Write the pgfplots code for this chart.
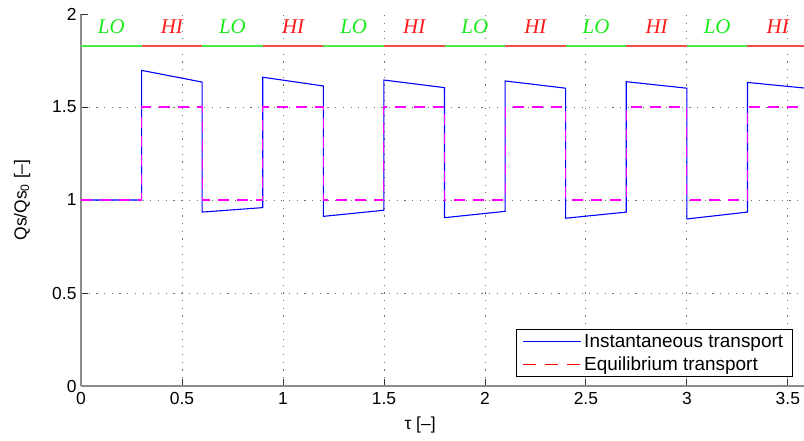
\documentclass[border=0pt]{standalone}
\usepackage{fontspec}
\setmainfont{Liberation Sans}
\newfontfamily\timesfont{Liberation Serif}
\usepackage{pgfplots}
\pgfplotsset{compat=1.18}
\usepackage{pgfplotstable}
\definecolor{bandgreen}{rgb}{0.30,0.92,0.30}
\definecolor{bandred}{rgb}{0.95,0.30,0.30}
\definecolor{txtgreen}{rgb}{0.10,0.92,0.10}
\definecolor{txtred}{rgb}{1.0,0.10,0.10}
\definecolor{eqmag}{rgb}{1.0,0.0,1.0}

\pgfplotstableread{
x y
0 1
0.3 1
0.3 1.697
0.6 1.634
0.6 0.935
0.9 0.959
0.9 1.660
1.2 1.613
1.2 0.912
1.5 0.945
1.5 1.645
1.8 1.604
1.8 0.905
2.1 0.939
2.1 1.640
2.4 1.601
2.4 0.902
2.7 0.935
2.7 1.636
3.0 1.601
3.0 0.898
3.3 0.935
3.3 1.632
3.6 1.600
}\inst

\pgfplotstableread{
x y
0 1
0.3 1
0.3 1.5
0.6 1.5
0.6 1
0.9 1
0.9 1.5
1.2 1.5
1.2 1
1.5 1
1.5 1.5
1.8 1.5
1.8 1
2.1 1
2.1 1.5
2.4 1.5
2.4 1
2.7 1
2.7 1.5
3.0 1.5
3.0 1
3.3 1
3.3 1.5
3.6 1.5
}\equil

\pgfplotstableread{
x y
0 1.828
0.3 1.828
nan nan
0.6 1.828
0.9 1.828
nan nan
1.2 1.828
1.5 1.828
nan nan
1.8 1.828
2.1 1.828
nan nan
2.4 1.828
2.7 1.828
nan nan
3.0 1.828
3.3 1.828
}\bandlo

\pgfplotstableread{
x y
0.3 1.828
0.6 1.828
nan nan
0.9 1.828
1.2 1.828
nan nan
1.5 1.828
1.8 1.828
nan nan
2.1 1.828
2.4 1.828
nan nan
2.7 1.828
3.0 1.828
nan nan
3.3 1.828
3.6 1.828
}\bandhi

\pgfplotstableread{
x y label
0.15 1.930 LO
0.75 1.930 LO
1.35 1.930 LO
1.95 1.930 LO
2.55 1.930 LO
3.15 1.930 LO
}\lolabels

\pgfplotstableread{
x y label
0.45 1.930 HI
1.05 1.930 HI
1.65 1.930 HI
2.25 1.930 HI
2.85 1.930 HI
3.45 1.930 HI
}\hilabels

\begin{document}
\begin{tikzpicture}
\begin{axis}[
  name=ax,
  scale only axis,
  width=723bp, height=372bp,
  xmin=0, xmax=3.58, ymin=0, ymax=2,
  axis x line*=bottom, axis y line*=left,
  axis line style={black!45, line width=1.2bp},
  tick align=inside,
  major tick length=7bp,
  tick style={black!80, line width=0.8bp},
  xtick={0,0.5,1,1.5,2,2.5,3,3.5},
  ytick={0,0.5,1,1.5},
  extra y ticks={2},
  extra y tick style={grid=none},
  /pgf/number format/assume math mode=true,
  ticklabel style={font=\fontsize{17.5}{20}\selectfont, text=black},
  xticklabel style={yshift=-3bp},
  yticklabel style={xshift=-1bp},
  grid=major,
  grid style={black!55, line width=0.8bp, dash pattern=on 1.2bp off 6.5bp},
  xlabel={τ [–]},
  ylabel={Qs/Qs\textsubscript{0} [–]},
  label style={font=\fontsize{17.5}{20}\selectfont},
  xlabel style={at={(axis description cs:0.469,-0.105)}, anchor=center},
  ylabel style={at={(axis description cs:-0.0816,0.5)}, anchor=center},
  legend style={at={(rel axis cs:0.984,0.024)}, anchor=south east,
    draw=black, line width=0.6bp, fill=white,
    font=\fontsize{19}{22}\selectfont,
    inner xsep=6bp, inner ysep=3bp, row sep=4bp,
    nodes={inner xsep=3bp}},
  legend cell align=left,
  legend image code/.code={\draw[#1] (0bp,0bp) -- (58bp,0bp);},
  unbounded coords=jump,
]
\addlegendimage{blue, line width=1.1bp}
\addlegendentry{Instantaneous transport}
\addlegendimage{red, line width=1.1bp, dash pattern=on 13bp off 9bp}
\addlegendentry{Equilibrium transport}

\addplot[bandgreen, line width=1.8bp, forget plot] table {\bandlo};
\addplot[bandred, line width=1.8bp, forget plot] table {\bandhi};
\addplot[draw=none, mark=none, forget plot, nodes near coords, point meta=explicit symbolic,
  nodes near coords style={anchor=center, text=txtgreen, font=\timesfont\itshape\fontsize{21}{24}\selectfont}]
  table[meta=label] {\lolabels};
\addplot[draw=none, mark=none, forget plot, nodes near coords, point meta=explicit symbolic,
  nodes near coords style={anchor=center, text=txtred, font=\timesfont\itshape\fontsize{21}{24}\selectfont}]
  table[meta=label] {\hilabels};

\addplot[blue, line width=1.1bp, forget plot] table {\inst};
\addplot[eqmag, line width=1.1bp, dash pattern=on 11bp off 8bp, forget plot] table {\equil};
\end{axis}
\pgfresetboundingbox
\path[use as bounding box] ([xshift=-81bp,yshift=-55bp]ax.south west) rectangle ([yshift=14bp]ax.north east);
\end{tikzpicture}
\end{document}
